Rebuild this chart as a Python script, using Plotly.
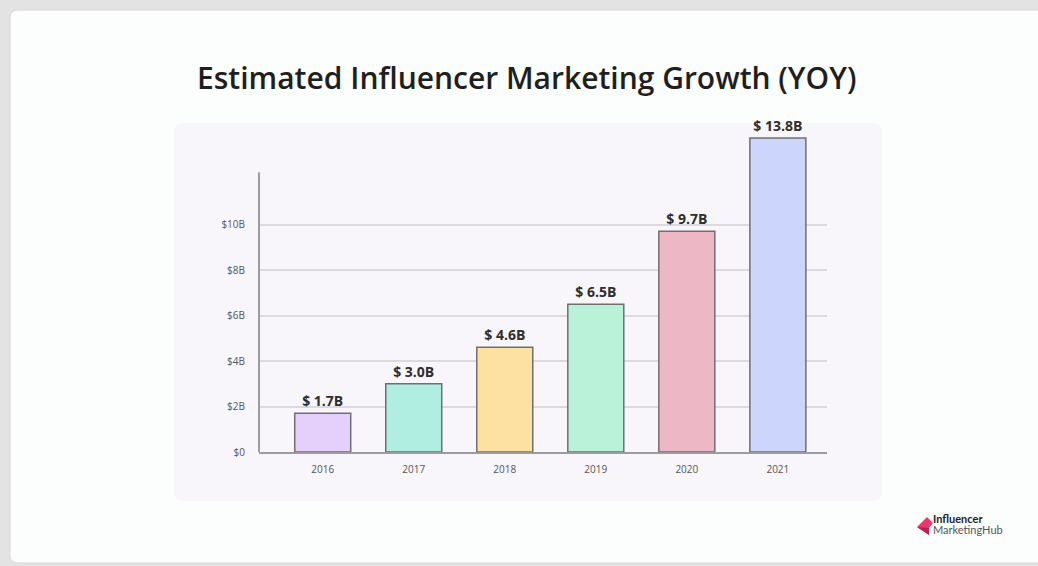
import plotly.graph_objects as go

# Data
years = ["2016", "2017", "2018", "2019", "2020", "2021"]
spend_billion = [1.7, 3.0, 4.6, 6.5, 9.7, 13.8]
bar_labels = ["$ 1.7B", "$ 3.0B", "$ 4.6B", "$ 6.5B", "$ 9.7B", "$ 13.8B"]
bar_colors = ["#e4d0fb", "#b0eee1", "#fde1a2", "#b9f2d9", "#eeb7c5", "#ccd5fb"]
y_tick_values = [0, 2, 4, 6, 8, 10]
y_tick_labels = ["$0", "$2B", "$4B", "$6B", "$8B", "$10B"]

W, H = 1038, 566
# plot area in pixels
L, R, B = 259, 827, 452
PX_PER_UNIT = 22.75
Y_MAX = 14.2
T = B - Y_MAX * PX_PER_UNIT


def px(x):
    return (x - L) / (R - L)


def py(y):
    return (B - y) / (B - T)


def rounded_rect(x0, y0, x1, y1, r):
    """Rounded rectangle path in paper coordinates, from pixel corners."""
    X0, X1 = px(x0), px(x1)
    Y0, Y1 = py(y0), py(y1)
    rx = r / (R - L)
    ry = r / (B - T)
    return (
        f"M {X0 + rx} {Y0} L {X1 - rx} {Y0} Q {X1} {Y0} {X1} {Y0 - ry} "
        f"L {X1} {Y1 + ry} Q {X1} {Y1} {X1 - rx} {Y1} "
        f"L {X0 + rx} {Y1} Q {X0} {Y1} {X0} {Y1 + ry} "
        f"L {X0} {Y0 - ry} Q {X0} {Y0} {X0 + rx} {Y0} Z"
    )


def poly(points):
    pts = [f"{px(x)} {py(y)}" for x, y in points]
    return "M " + " L ".join(pts) + " Z"


fig = go.Figure(
    go.Bar(
        x=years,
        y=spend_billion,
        text=bar_labels,
        textposition="outside",
        textfont=dict(family="Open Sans", size=14, color="#2e2e2e", weight=700),
        cliponaxis=False,
        marker=dict(color=bar_colors, line=dict(color="#6f6f72", width=1.5)),
        width=0.615,
        hoverinfo="skip",
    )
)

shapes = [
    # card
    dict(type="path", xref="paper", yref="paper", layer="below",
         path=rounded_rect(10, 10, 1060, 563, 8),
         fillcolor="#fcfdfd", line=dict(color="#d8d8d8", width=1)),
    # chart panel
    dict(type="path", xref="paper", yref="paper", layer="below",
         path=rounded_rect(174, 123, 882, 501, 10),
         fillcolor="#f8f6fb", line=dict(width=0)),
    # y axis line
    dict(type="line", xref="paper", yref="y", x0=0, x1=0, y0=0, y1=12.3,
         line=dict(color="#9c9c9f", width=2)),
    # logo mark
    dict(type="path", xref="paper", yref="paper",
         path=poly([(917, 527), (927, 517), (933, 523), (929, 528), (929, 535)]),
         fillcolor="#e8386d", line=dict(width=0)),
    dict(type="path", xref="paper", yref="paper",
         path=poly([(917, 527), (929, 528), (929, 535)]),
         fillcolor="#b8204e", line=dict(width=0)),
]

annotations = [
    dict(text="Estimated Influencer Marketing Growth (YOY)",
         xref="paper", yref="paper", x=px(527), y=py(77),
         showarrow=False, xanchor="center", yanchor="middle",
         font=dict(family="Open Sans", size=30, color="#1f1f1f", weight=600)),
    dict(text="<b>Influencer</b>", xref="paper", yref="paper",
         x=px(931), y=py(519), showarrow=False, xanchor="left", yanchor="middle",
         font=dict(family="Lato", size=11, color="#222222")),
    dict(text="MarketingHub", xref="paper", yref="paper",
         x=px(931), y=py(530), showarrow=False, xanchor="left", yanchor="middle",
         font=dict(family="Lato", size=11, color="#555555")),
]

fig.update_layout(
    width=W, height=H,
    margin=dict(l=L, r=W - R, t=T, b=H - B, pad=0),
    paper_bgcolor="#e3e3e3",
    plot_bgcolor="rgba(0,0,0,0)",
    showlegend=False,
    shapes=shapes,
    annotations=annotations,
    xaxis=dict(
        type="category",
        range=[-0.70, 5.54],
        showline=True, linecolor="#9c9c9f", linewidth=1.5,
        showgrid=False, zeroline=False,
        ticks="", ticklabelstandoff=7,
        tickfont=dict(family="Open Sans", size=10, color="#555555"),
        fixedrange=True,
    ),
    yaxis=dict(
        range=[0, Y_MAX],
        tickvals=y_tick_values, ticktext=y_tick_labels,
        showline=False, zeroline=False,
        showgrid=True, gridcolor="#dcdadf", gridwidth=1.5,
        ticks="", ticklabelstandoff=13,
        tickfont=dict(family="Open Sans", size=10, color="#555555"),
        fixedrange=True,
    ),
)

fig.write_html("out.html", config=dict(displayModeBar=False))
